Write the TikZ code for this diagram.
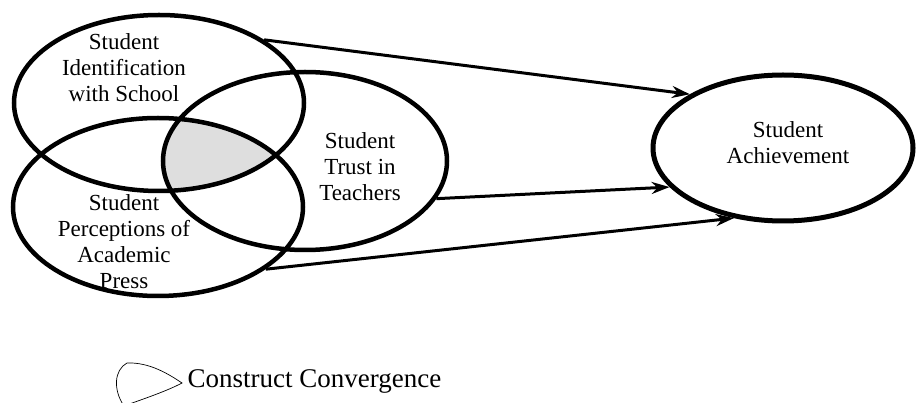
\documentclass[tikz,border=0pt]{standalone}
\usepackage{fontspec}
\setmainfont{Liberation Serif}
\usepackage{tikz}
\usetikzlibrary{shapes.geometric, arrows.meta}
\tikzstyle{construct} = [ellipse, draw=black, line width=4.5pt, inner sep=0pt]
\tikzstyle{caption} = [align=center, font=\fontsize{23}{26}\selectfont]
\tikzstyle{arrow} = [line width=3pt,-{Stealth[length=18pt,width=12pt]}]

\begin{document}
\begin{tikzpicture}[x=1pt,y=-1pt]
\useasboundingbox (0,0) rectangle (916,403);
% part shared by all three school constructs
\begin{scope}
\clip (159,103) ellipse (145 and 88);
\clip (158,207) ellipse (145 and 89);
\clip (305,161) ellipse (142 and 89);
\fill [black!13] (150,100) rectangle (300,200);
\end{scope}

\node (ident) [construct, minimum width=290pt, minimum height=176pt] at (159,103) {};
\node (percep) [construct, minimum width=290pt, minimum height=178pt] at (158,207) {};
\node (trust) [construct, minimum width=284pt, minimum height=178pt] at (305,161) {};
\node (achieve) [construct, line width=5pt, minimum width=260pt, minimum height=146pt] at (783,148) {};

\node (identtext) [caption] at (124,68) {Student\\Identification\\with School};
\node (perceptext) [caption] at (124,242) {Student\\Perceptions of\\Academic\\Press};
\node (trusttext) [caption] at (360,167) {Student\\Trust in\\Teachers};
\node (achievetext) [caption] at (788,143) {Student\\Achievement};

\draw [arrow] (ident.31) -- (achieve.150);
\draw [arrow] (trust.-16) -- (achieve.199);
\draw [arrow] (percep.-30) -- (achieve.235);

% legend
\draw [line width=0.7pt] (127,363) .. controls (150,362) and (170,375) .. (182,383)
  .. controls (165,392) and (140,400) .. (124,406)
  .. controls (113,390) and (114,370) .. (127,363);
\node (legendtext) [anchor=west, font=\fontsize{27}{31}\selectfont] at (184,381) {Construct Convergence};
\end{tikzpicture}
\end{document}
